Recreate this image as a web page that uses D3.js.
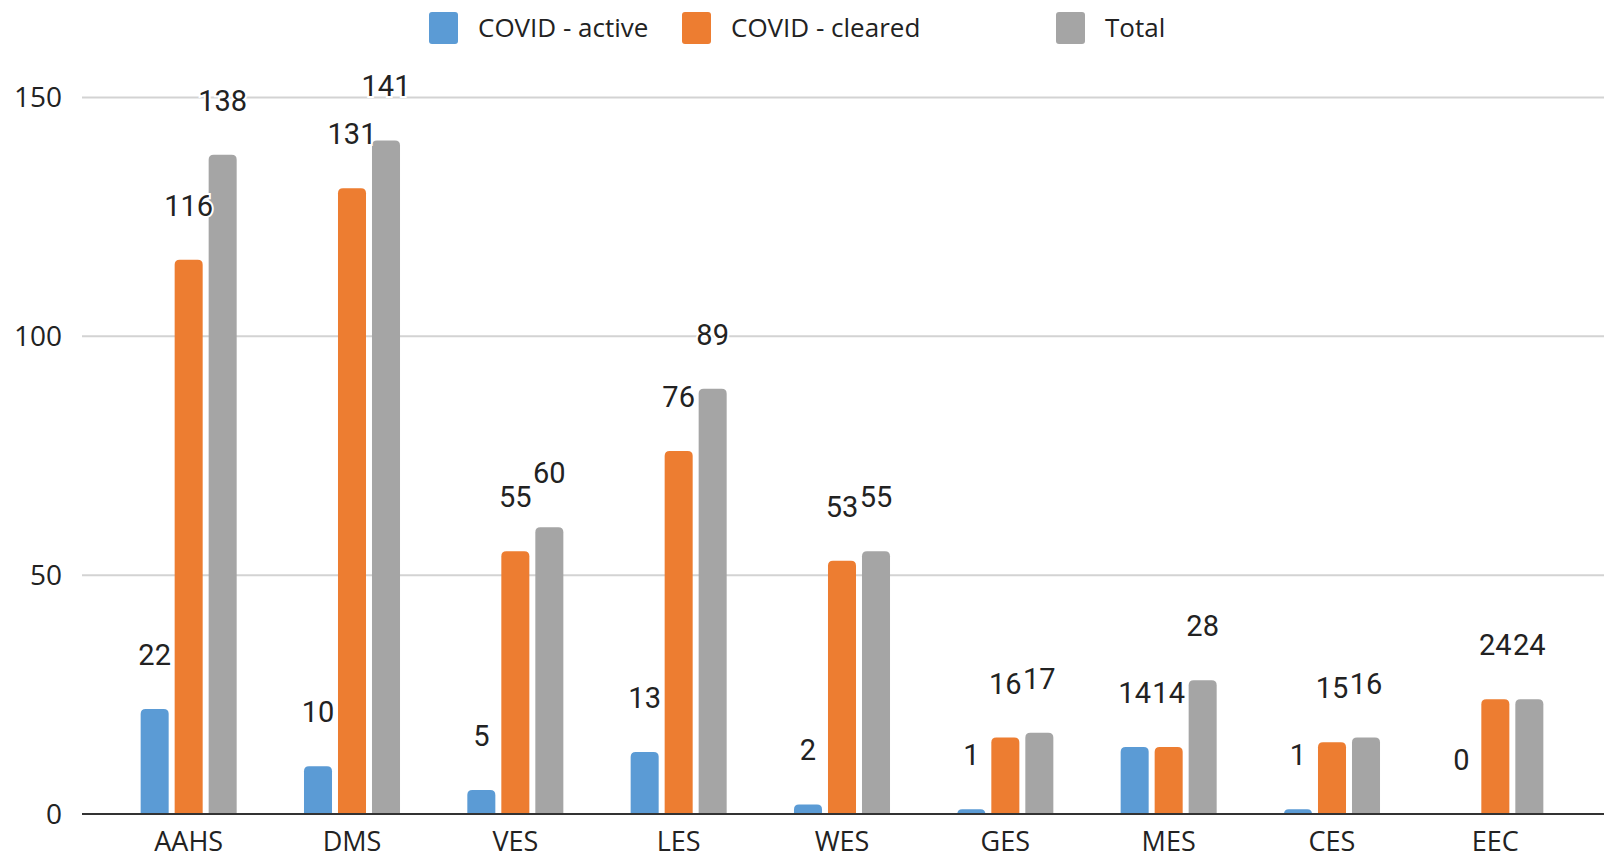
<!DOCTYPE html>
<html>
<head>
<meta charset="utf-8">
<script src="https://cdn.jsdelivr.net/npm/d3@7"></script>
<style>
  body { margin: 0; background: #fff; }
  svg { display: block; }
</style>
</head>
<body>
<div id="wrapper"></div>
<script>
// data
const schools = ["AAHS", "DMS", "VES", "LES", "WES", "GES", "MES", "CES", "EEC"]
const seriesNames = ["COVID - active", "COVID - cleared", "Total"]
const activeValues = [22, 10, 5, 13, 2, 1, 14, 1, 0]
const clearedValues = [116, 131, 55, 76, 53, 16, 14, 15, 24]
const totalValues = [138, 141, 60, 89, 55, 17, 28, 16, 24]
const yTicks = [0, 50, 100, 150]

const colors = ["#5b9bd5", "#ed7d31", "#a5a5a5"]

const dimensions = {
  width: 1607,
  height: 860,
  plotLeft: 82,
  plotRight: 1604,
  bandLeft: 107,
  bandRight: 1577,
  top: 97.4,
  bottom: 814,
}

const rows = schools.map((s, i) => ({
  school: s,
  values: [activeValues[i], clearedValues[i], totalValues[i]],
}))

const svg = d3.select("#wrapper")
  .append("svg")
    .attr("width", dimensions.width)
    .attr("height", dimensions.height)

const xScale = d3.scaleBand()
  .domain(schools)
  .range([dimensions.bandLeft, dimensions.bandRight])
  .padding(0)

// three bars per school, 28px wide with 6px gaps
const seriesScale = d3.scaleBand()
  .domain(d3.range(3))
  .range([-51, 51])
  .paddingInner(0.176)
  .paddingOuter(0.088)

const yScale = d3.scaleLinear()
  .domain([0, 150])
  .range([dimensions.bottom, dimensions.top])

// gridlines
svg.append("g")
  .selectAll("line")
  .data(yTicks.filter(d => d > 0))
  .join("line")
    .attr("x1", dimensions.plotLeft)
    .attr("x2", dimensions.plotRight)
    .attr("y1", d => yScale(d))
    .attr("y2", d => yScale(d))
    .attr("stroke", "#d3d3d3")
    .attr("stroke-width", 2)

// y tick labels
svg.append("g")
  .selectAll("text")
  .data(yTicks)
  .join("text")
    .attr("x", 62)
    .attr("y", d => yScale(d))
    .attr("dy", "0.36em")
    .attr("text-anchor", "end")
    .style("font-family", "'Open Sans', sans-serif")
    .style("font-size", "28px")
    .attr("fill", "#222")
    .text(d => d)

// bars with rounded tops
const barPath = (x, w, y0, y1, r) => {
  const h = y0 - y1
  if (h <= 0) return ""
  const rr = Math.min(r, h, w / 2)
  return `M${x},${y0}V${y1 + rr}Q${x},${y1} ${x + rr},${y1}H${x + w - rr}Q${x + w},${y1} ${x + w},${y1 + rr}V${y0}Z`
}

const groups = svg.append("g")
  .selectAll("g")
  .data(rows)
  .join("g")
    .attr("transform", d => `translate(${xScale(d.school) + xScale.bandwidth() / 2},0)`)

groups.selectAll("path")
  .data(d => d.values.map((v, k) => ({ v, k })))
  .join("path")
    .attr("d", d => barPath(seriesScale(d.k), seriesScale.bandwidth(),
      yScale(0), yScale(d.v), 5))
    .attr("fill", d => colors[d.k])

// baseline axis
svg.append("line")
  .attr("x1", dimensions.plotLeft)
  .attr("x2", dimensions.plotRight)
  .attr("y1", yScale(0))
  .attr("y2", yScale(0))
  .attr("stroke", "#333")
  .attr("stroke-width", 2)

// x labels
svg.append("g")
  .selectAll("text")
  .data(schools)
  .join("text")
    .attr("x", d => xScale(d) + xScale.bandwidth() / 2)
    .attr("y", 851)
    .attr("text-anchor", "middle")
    .style("font-family", "'Open Sans', sans-serif")
    .style("font-size", "27px")
    .attr("fill", "#222")
    .text(d => d)

// value labels with white halo
groups.selectAll("text")
  .data(d => d.values.map((v, k) => ({ v, k })))
  .join("text")
    .attr("x", d => seriesScale(d.k) + seriesScale.bandwidth() / 2)
    .attr("y", d => yScale(d.v) - 44)
    .attr("text-anchor", "middle")
    .style("font-family", "Roboto, sans-serif")
    .style("font-size", "29px")
    .attr("fill", "#222")
    .attr("stroke", "#fff")
    .attr("stroke-width", 4)
    .attr("paint-order", "stroke")
    .text(d => d.v)

// legend
const legendX = [429, 682, 1056]
const legend = svg.append("g")
  .selectAll("g")
  .data(seriesNames)
  .join("g")
    .attr("transform", (d, i) => `translate(${legendX[i]},12)`)

legend.append("rect")
  .attr("width", 29)
  .attr("height", 32)
  .attr("rx", 3)
  .attr("fill", (d, i) => colors[i])

legend.append("text")
  .attr("x", 49)
  .attr("y", 25)
  .style("font-family", "'Open Sans', sans-serif")
  .style("font-size", "26px")
  .attr("fill", "#222")
  .text(d => d)
</script>
</body>
</html>
